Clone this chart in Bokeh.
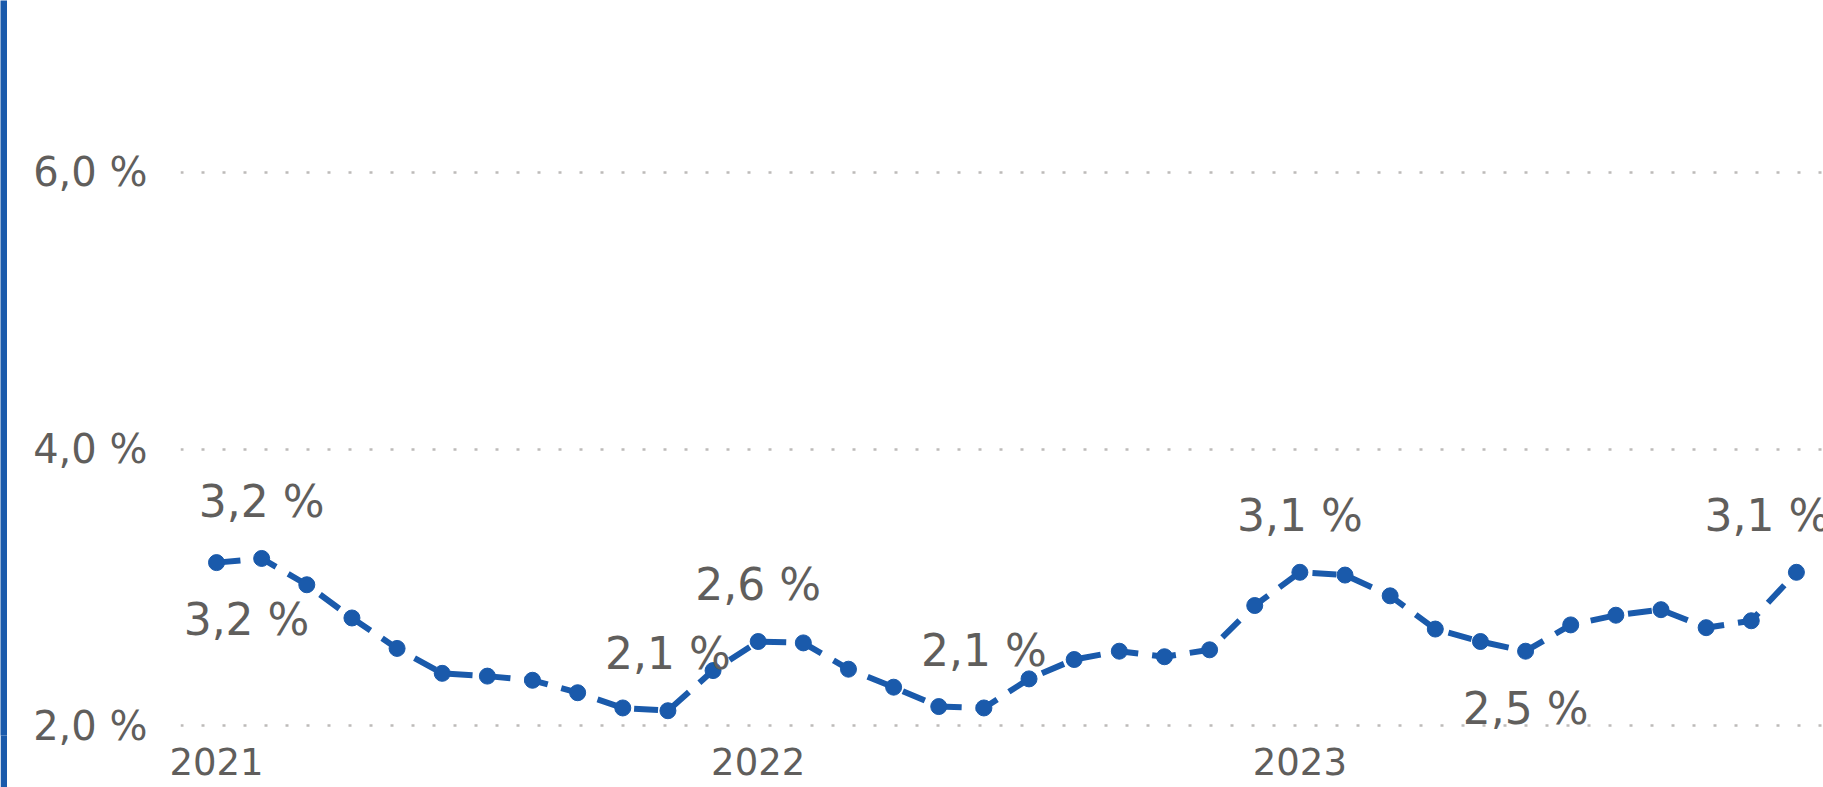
from bokeh.plotting import figure
from bokeh.models import ColumnDataSource, FixedTicker, Range1d
from bokeh.layouts import row
from bokeh.embed import file_html
from bokeh.resources import INLINE
from bokeh.core.properties import value

# ---- data ----
months = [f"{y}-{m:02d}" for y in (2021, 2022, 2023) for m in range(1, 13)]
rate = [3.18, 3.21, 3.02, 2.78, 2.56, 2.38, 2.36, 2.33, 2.24, 2.13, 2.11, 2.40,
        2.61, 2.60, 2.41, 2.28, 2.14, 2.13, 2.34, 2.48, 2.54, 2.50, 2.55, 2.87,
        3.11, 3.09, 2.94, 2.70, 2.61, 2.54, 2.73, 2.80, 2.84, 2.71, 2.76, 3.11]
year_ticks = ["2021-01", "2022-01", "2023-01"]
year_labels = ["2021", "2022", "2023"]
y_ticks = [2.0, 4.0, 6.0]
label_months = ["2021-01", "2021-02", "2021-11", "2022-01", "2022-06",
                "2023-01", "2023-06", "2023-12"]
label_below = ["2021-01", "2023-06"]

BLUE = "#1a5aab"
GREY = "#605e5c"
FONT = "DejaVu Sans"

def fmt(v):
    return f"{v:.1f}".replace(".", ",") + " %"

xs = list(range(len(months)))
src = ColumnDataSource(dict(x=xs, y=rate))

lx, ly, lt, lxo, lyo = [], [], [], [], []
for m in label_months:
    i = months.index(m)
    lx.append(i)
    ly.append(rate[i])
    lt.append(fmt(rate[i]))
    below = m in label_below
    lyo.append(57 if below else -57)
    if i == 0:
        lxo.append(30)
    elif i == len(months) - 1:
        lxo.append(-29)
    else:
        lxo.append(0)
lsrc = ColumnDataSource(dict(x=lx, y=ly, text=lt, xo=lxo, yo=lyo))

# ---- left blue bar ----
bar = figure(width=7, height=787, toolbar_location=None, output_backend="svg",
             x_axis_location=None, y_axis_location=None, min_border=0,
             background_fill_color=BLUE, border_fill_color=BLUE,
             outline_line_color=None)
bar.grid.visible = False

# ---- main chart ----
p = figure(width=1816, height=787, toolbar_location=None, output_backend="svg",
           x_range=Range1d(-0.798, 35.6), y_range=Range1d(1.931, 7.241),
           min_border_left=173, min_border_right=0, min_border_top=0,
           min_border_bottom=52, outline_line_color=None)

p.xgrid.visible = False
p.ygrid.ticker = FixedTicker(ticks=y_ticks)
p.ygrid.grid_line_color = "#bdbbb9"
p.ygrid.grid_line_width = 2.5
p.ygrid.grid_line_dash = "3 18"

p.yaxis.ticker = FixedTicker(ticks=y_ticks)
p.yaxis.major_label_overrides = {t: fmt(t) for t in y_ticks}
p.yaxis.major_label_standoff = 27
p.yaxis.major_label_text_font_size = "40px"

xt = [months.index(m) for m in year_ticks]
p.xaxis.ticker = FixedTicker(ticks=xt)
p.xaxis.major_label_overrides = {t: l for t, l in zip(xt, year_labels)}
p.xaxis.major_label_standoff = 6
p.xaxis.major_label_text_font_size = "37px"

for ax in (p.xaxis, p.yaxis):
    ax.axis_line_color = None
    ax.major_tick_line_color = None
    ax.minor_tick_line_color = None
    ax.major_label_text_font = FONT
    ax.major_label_text_color = GREY

p.line("x", "y", source=src, line_color=BLUE, line_width=6, line_dash="24 14")
p.scatter("x", "y", source=src, size=16, fill_color=BLUE, line_color=BLUE)

p.text(x="x", y="y", text="text", x_offset="xo", y_offset="yo", source=lsrc,
       text_font=value(FONT), text_font_size="44px", text_color=GREY,
       text_align="center", text_baseline="alphabetic")

layout = row(bar, p, spacing=0)
open("out.html", "w").write(file_html(layout, INLINE))
